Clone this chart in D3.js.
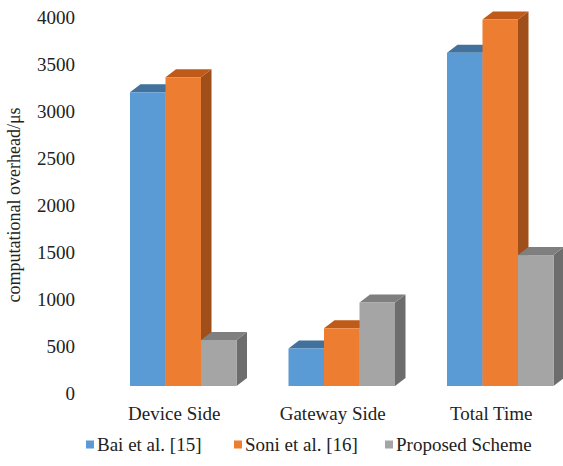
<!DOCTYPE html>
<html><head><meta charset="utf-8">
<script src="https://cdn.jsdelivr.net/npm/d3@7"></script>
<style>html,body{margin:0;padding:0;background:#fff;}svg{display:block;}
svg text{font-family:"Liberation Serif","Times New Roman","DejaVu Serif",serif;}</style>
</head><body>
<script>
const categories = ["Device Side", "Gateway Side", "Total Time"];
const seriesNames = ["Bai et al. [15]", "Soni et al. [16]", "Proposed Scheme"];
const bai = [3130, 400, 3550];
const soni = [3290, 615, 3905];
const proposed = [490, 890, 1395];
const yTicks = [0, 500, 1000, 1500, 2000, 2500, 3000, 3500, 4000];

const W = 563, H = 466;
const colors = {front: ["#5B9BD5", "#ED7D31", "#A5A5A5"],
                top: ["#41719C", "#C05A18", "#7F7F7F"],
                side: ["#3A6A98", "#A04E1A", "#6D6D6D"]};
const values = [bai, soni, proposed];
const dx = 10.5, dy = 8;

const svg = d3.select("body").append("svg").attr("width", W).attr("height", H);

const x0 = d3.scaleBand().domain(categories).range([130, 553.5]).paddingInner(0.328).paddingOuter(0);
const x1 = d3.scaleBand().domain(seriesNames).range([0, x0.bandwidth()]).padding(0);
const y = d3.scaleLinear().domain([0, 4000]).range([386, 10.6]);

// y tick labels
svg.append("g").selectAll("text").data(yTicks).join("text")
  .attr("x", 75).attr("y", d => y(d) + 7).attr("dy", "0.35em")
  .attr("text-anchor", "end").attr("font-size", 19).attr("fill", "#222")
  .text(d => d);

// y title
svg.append("text").attr("transform", "translate(20,205) rotate(-90)")
  .attr("text-anchor", "middle").attr("font-size", 18).attr("fill", "#222")
  .text("computational overhead/μs");

// bars
const g = svg.append("g");
categories.forEach((c, ci) => {
  seriesNames.forEach((s, si) => {
    const v = values[si][ci];
    const xl = x0(c) + x1(s), xr = xl + x1.bandwidth();
    const yt = y(v), yb = y(0);
    g.append("path").attr("d", `M${xr},${yt}L${xr+dx},${yt-dy}L${xr+dx},${yb-dy}L${xr},${yb}Z`).attr("fill", colors.side[si]);
    g.append("path").attr("d", `M${xl},${yt}L${xl+dx},${yt-dy}L${xr+dx},${yt-dy}L${xr},${yt}Z`).attr("fill", colors.top[si]);
    g.append("rect").attr("x", xl).attr("y", yt).attr("width", xr - xl).attr("height", yb - yt).attr("fill", colors.front[si]);
  });
});

// category labels
svg.append("g").selectAll("text").data(categories).join("text")
  .attr("x", d => x0(d) + x0.bandwidth() / 2 - 9).attr("y", 420)
  .attr("text-anchor", "middle").attr("font-size", 19).attr("fill", "#222")
  .text(d => d);

// legend
const legX = [86, 234, 385];
const leg = svg.append("g");
seriesNames.forEach((s, i) => {
  leg.append("rect").attr("x", legX[i]).attr("y", 440.5).attr("width", 8).attr("height", 8).attr("fill", colors.front[i]);
  leg.append("text").attr("x", legX[i] + 11).attr("y", 451).attr("font-size", 19).attr("fill", "#222").text(s);
});
</script>
</body></html>
